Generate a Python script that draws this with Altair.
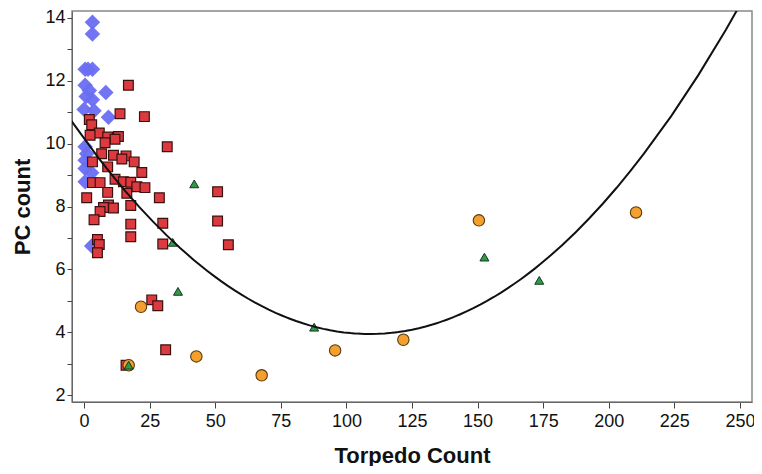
import altair as alt
import pandas as pd

# Blue diamonds
blue_x = [3.2, 3.2, 0.4, 1.5, 3.2, 0.4, 2.0, 8.3, 3.2, 0.8, 0.0, 3.8, 9.3, 0.4, 1.0, 0.4, 0.4, 2.9, 0.4, 2.9]
blue_y = [13.86, 13.49, 12.37, 12.37, 12.37, 11.86, 11.69, 11.63, 11.4, 11.5, 11.09, 11.05, 10.84, 9.9, 9.68, 9.47, 9.21, 9.07, 8.79, 6.74]

# Red squares
red_x = [16.9, 13.7, 23.0, 2.0, 2.9, 5.8, 2.3, 9.0, 13.1, 11.8, 8.0, 31.7, 6.7, 11.2, 16.0, 14.4, 19.1, 3.2,
         9.0, 22.0, 11.8, 15.0, 17.8, 20.1, 23.2, 3.2, 6.1, 9.0, 16.3, 1.0, 28.7, 9.3, 7.4, 11.2, 6.1, 17.8,
         3.8, 17.8, 30.0, 17.8, 30.0, 5.1, 5.8, 5.1, 50.9, 50.9, 55.0, 25.8, 28.1, 31.1, 16.0]
red_y = [11.86, 10.95, 10.86, 10.77, 10.6, 10.34, 10.27, 10.21, 10.23, 10.14, 10.03, 9.9, 9.68, 9.63, 9.61, 9.51, 9.42, 9.42,
         9.26, 9.08, 8.87, 8.79, 8.77, 8.63, 8.6, 8.76, 8.76, 8.45, 8.42, 8.28, 8.28, 8.05, 7.97, 7.95, 7.84, 8.03,
         7.58, 7.44, 7.47, 7.04, 6.81, 6.95, 6.79, 6.53, 8.47, 7.54, 6.78, 5.03, 4.84, 3.44, 2.95]

# Orange circles
orange_x = [17.0, 21.7, 42.8, 67.7, 95.7, 121.7, 150.5, 210.4]
orange_y = [2.95, 4.81, 3.23, 2.63, 3.42, 3.76, 7.56, 7.81]

# Green triangles
green_x = [17.0, 33.8, 35.8, 42.0, 87.7, 152.6, 173.5]
green_y = [2.95, 6.86, 5.3, 8.72, 4.16, 6.39, 5.65]

frames = []
for g, xs, ys in [("blue", blue_x, blue_y), ("red", red_x, red_y),
                  ("orange", orange_x, orange_y), ("green", green_x, green_y)]:
    frames.append(pd.DataFrame({"torpedo": xs, "pc": ys, "group": g}))
df = pd.concat(frames, ignore_index=True)

X_DOM = [-4.6, 254.6]
Y_DOM = [1.78, 14.22]
FONT = "Liberation Sans Narrow, Arial Narrow, Liberation Sans, Arial"

y_ticks = [2 + 0.5 * i for i in range(25)]

xenc = alt.X("torpedo:Q", scale=alt.Scale(domain=X_DOM, nice=False, zero=False),
             axis=alt.Axis(title="Torpedo Count", values=list(range(0, 251, 25)), grid=False,
                           tickSize=6, labelFontSize=18, labelFont=FONT, labelColor="#111",
                           titleFont="Liberation Sans, Arial", titleFontSize=22, titleFontWeight="bold",
                           titleColor="#111", titlePadding=15, domainColor="#666", tickColor="#444",
                           labelPadding=4))
yenc = alt.Y("pc:Q", scale=alt.Scale(domain=Y_DOM, nice=False, zero=False),
             axis=alt.Axis(title="PC count", values=y_ticks, grid=False,
                           labelExpr="datum.value % 2 == 0 ? datum.label : ''", format="d",
                           tickSize=5, labelFontSize=18, labelFont=FONT, labelColor="#111",
                           titleFont="Liberation Sans, Arial", titleFontSize=22, titleFontWeight="bold",
                           titleColor="#111", titlePadding=10, domainColor="#666", tickColor="#444",
                           labelPadding=2))

base = alt.Chart(df)

blue = base.transform_filter(alt.datum.group == "blue").mark_point(
    shape="diamond", filled=True, size=240, color="#6a6ef2", opacity=0.95
).encode(x=xenc, y=yenc)

red = base.transform_filter(alt.datum.group == "red").mark_point(
    shape="square", filled=True, size=95, fill="#dd3a3f", stroke="#3a1010", strokeWidth=1.2, opacity=1
).encode(x=xenc, y=yenc)

orange = base.transform_filter(alt.datum.group == "orange").mark_point(
    shape="circle", filled=True, size=130, fill="#f3a02e", stroke="#5a3a10", strokeWidth=1.1, opacity=1
).encode(x=xenc, y=yenc)

green = base.transform_filter(alt.datum.group == "green").mark_point(
    shape="triangle-up", filled=True, size=80, fill="#2f9a4c", stroke="#12361c", strokeWidth=1.0, opacity=1
).encode(x=xenc, y=yenc)

curve = base.transform_regression(
    "torpedo", "pc", method="poly", order=2, extent=[-5, 255]
).mark_line(color="#111", strokeWidth=2, clip=True).encode(x=xenc, y=yenc)

chart = alt.layer(blue, red, orange, green, curve).properties(
    width=680, height=391,
    autosize=alt.AutoSizeParams(type="none"),
    padding={"left": 64, "top": 3, "right": 2, "bottom": 64},
).configure_view(stroke="#888", strokeWidth=1.5)

chart.save("out.html", embed_options={"renderer": "svg", "actions": False})
